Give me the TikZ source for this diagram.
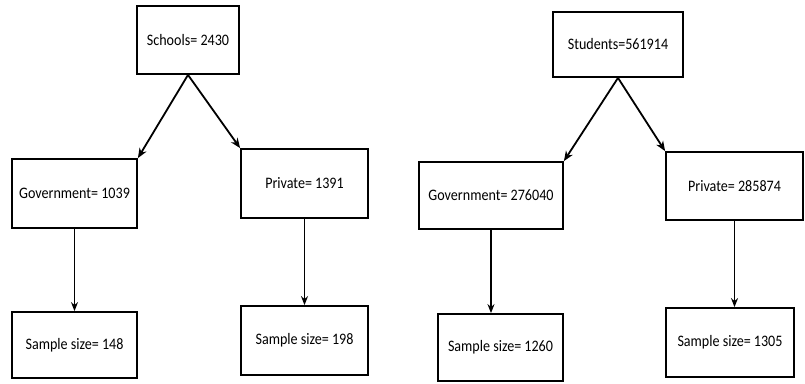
\documentclass[tikz,border=0pt]{standalone}
\usepackage{fontspec}
\setmainfont{Carlito}[FakeStretch=0.88]
\usetikzlibrary{arrows.meta}
\begin{document}
\begin{tikzpicture}[x=1pt,y=-1pt,
  box/.style={draw, line width=1.8pt, inner sep=0pt, font=\fontsize{16}{18}\selectfont},
  arr/.style={-{Stealth[length=10pt,width=8pt]}, line width=1.8pt},
  varr/.style={-{Stealth[length=9pt,width=7pt]}, line width=1.5pt}]
\useasboundingbox (0,0) rectangle (805,383);
\node[box, minimum width=102pt, minimum height=68pt] (schools) at (188,40) {Schools= 2430};
\node[box, minimum width=125pt, minimum height=69pt] (gov1) at (74.5,193.5) {Government= 1039};
\node[box, minimum width=127pt, minimum height=69pt] (priv1) at (304.5,183.5) {Private= 1391};
\node[box, minimum width=125pt, minimum height=66pt] (samp1) at (74.5,345) {Sample size= 148};
\node[box, minimum width=127pt, minimum height=69pt] (samp2) at (304.5,340.5) {Sample size= 198};
\node[box, minimum width=130pt, minimum height=65pt] (students) at (618,44.5) {Students=561914};
\node[box, minimum width=144pt, minimum height=67pt] (gov2) at (491,195.5) {Government= 276040};
\node[box, minimum width=137pt, minimum height=68pt] (priv2) at (734.5,186) {Private= 285874};
\node[box, minimum width=125pt, minimum height=67pt] (samp3) at (500.5,347.5) {Sample size= 1260};
\node[box, minimum width=128pt, minimum height=69pt] (samp4) at (730,342.5) {Sample size= 1305};
\draw[arr] (schools.south) -- (gov1.north east);
\draw[arr] (schools.south) -- (priv1.north west);
\draw[arr] (students.south) -- (gov2.north east);
\draw[arr] (students.south) -- (priv2.north west);
\draw[varr] (gov1.south) -- (gov1.south |- samp1.north);
\draw[varr] (priv1.south) -- (priv1.south |- samp2.north);
\draw[varr] (gov2.south) -- (gov2.south |- samp3.north);
\draw[varr] (priv2.south) -- (priv2.south |- samp4.north);
\end{tikzpicture}
\end{document}
